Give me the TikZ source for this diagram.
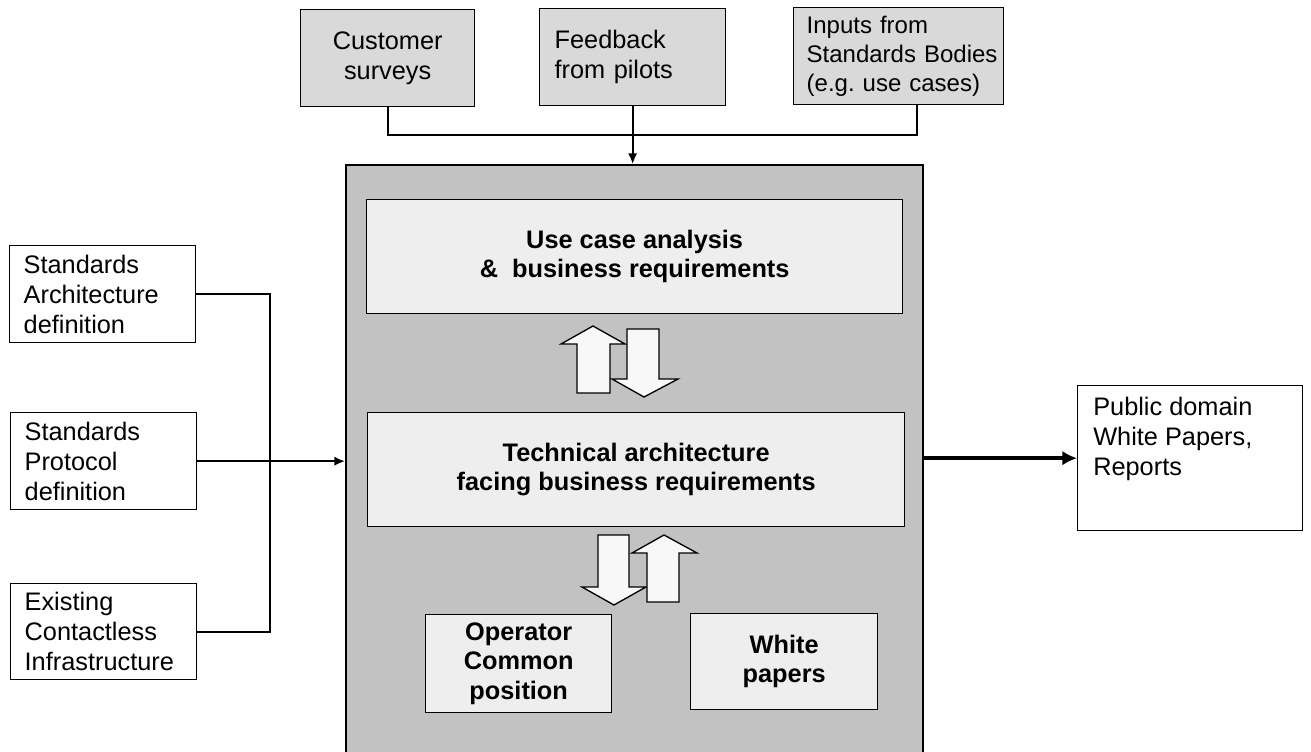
\documentclass[tikz,border=0pt]{standalone}
\usepackage{fontspec}
\setmainfont{Liberation Sans}
\usetikzlibrary{arrows.meta}
\hyphenpenalty=10000
\exhyphenpenalty=10000
\definecolor{blockgray}{HTML}{C2C2C2}
\definecolor{topgray}{HTML}{D9D9D9}
\definecolor{innergray}{HTML}{EEEEEE}
\definecolor{arrowfill}{HTML}{F8F8F8}
\begin{document}
\begin{tikzpicture}[x=0.75pt,y=-0.75pt,
  txt/.style={font=\fontsize{19}{22.5}\selectfont},
  stxt/.style={font=\fontsize{18}{21.5}\selectfont},
  btxt/.style={font=\fontsize{19}{22}\selectfont\bfseries},
  wh/.style 2 args={minimum width=#1*0.75pt, minimum height=#2*0.75pt},
  box/.style={draw=black, line width=1pt, inner sep=0pt, anchor=north west},
  topbox/.style={box, fill=topgray, txt},
  sidebox/.style={box, fill=white, txt},
  innerbox/.style={box, fill=innergray, btxt, align=center},
  conn/.style={line width=1.5pt},
  tip/.style={-{Latex[length=8pt,width=7pt]}},
  barrow/.style={draw=black, line width=1pt, fill=arrowfill, line join=miter}
]
\useasboundingbox (0,0) rectangle (1311,751);
\clip (0,0) rectangle (1311,751);
\fill[white] (0,0) rectangle (1311,751);

% top inputs
\node[topbox, wh={174}{97}, align=center] (cust) at (300,9) {Customer\\surveys};
\node[topbox, wh={186}{97}, text width=156*0.75pt, align=left] (fb) at (539,8) {Feedback\\from~pilots};
\node[topbox, stxt, wh={210}{97}, text width=184*0.75pt, align=left] (inp) at (793,7) {\mbox{Inputs from}\\\mbox{Standards Bodies}\\\mbox{(e.g.\ use cases)}};

% main block
\node[box, fill=blockgray, line width=1.5pt, wh={577}{640}] (main) at (345,164) {};

% inner boxes
\node[innerbox, wh={536}{114}] (uc) at (366,199) {Use case analysis\\\&\ \ business requirements};
\node[innerbox, wh={537}{114}] (tc) at (367,412) {Technical architecture\\facing business requirements};
\node[innerbox, wh={186}{98}] (op) at (425,614) {Operator\\Common\\position};
\node[innerbox, wh={187}{96}] (wp) at (690,613) {White\\papers};

% block arrows upper pair
\draw[barrow] (577,393) -- (577,344) -- (561,344) -- (593,326) -- (625,344) -- (610,344) -- (610,393) -- cycle;
\draw[barrow] (627,329) -- (659,329) -- (659,379) -- (678,379) -- (644,397) -- (612,379) -- (627,379) -- cycle;
% block arrows lower pair
\draw[barrow] (598,535) -- (629,535) -- (629,587) -- (646,587) -- (614,605) -- (582,587) -- (598,587) -- cycle;
\draw[barrow] (647,602) -- (647,553) -- (632,553) -- (664,535) -- (697,553) -- (679,553) -- (679,602) -- cycle;

% left boxes
\node[sidebox, wh={186}{97}, text width=158*0.75pt, align=left] (a1) at (9,245) {Standards\\Architecture\\definition};
\node[sidebox, wh={186}{97}, text width=158*0.75pt, align=left] (a2) at (10,412) {Standards\\Protocol\\definition};
\node[sidebox, wh={186}{96}, text width=158*0.75pt, align=left] (a3) at (10,583) {Existing\\Contactless\\Infrastructure};

% right box
\node[box, fill=white, wh={225}{145}] (pub) at (1077,385) {};
\node[txt, inner sep=0pt, anchor=north west, align=left] (pubtxt) at (1093,397) {Public~domain\\White~Papers,\\Reports};

% connectors top
\coordinate (bus) at (917,135);
\draw[conn] (cust.south) |- (bus) -- (bus |- inp.south);
\draw[conn, tip] (fb.south) -- (fb.south |- main.north);

% connectors left
\coordinate (lbus) at (270,460);
\draw[conn] (a1.east) -| (lbus);
\draw[conn] (a3.east) -| (lbus);
\draw[conn, tip] (a2.east) -- (a2.east -| main.west);

% output
\draw[line width=2.75pt, -{Latex[length=11pt,width=11pt]}] (main.east |- pub.west) -- (pub.west);
\end{tikzpicture}
\end{document}
